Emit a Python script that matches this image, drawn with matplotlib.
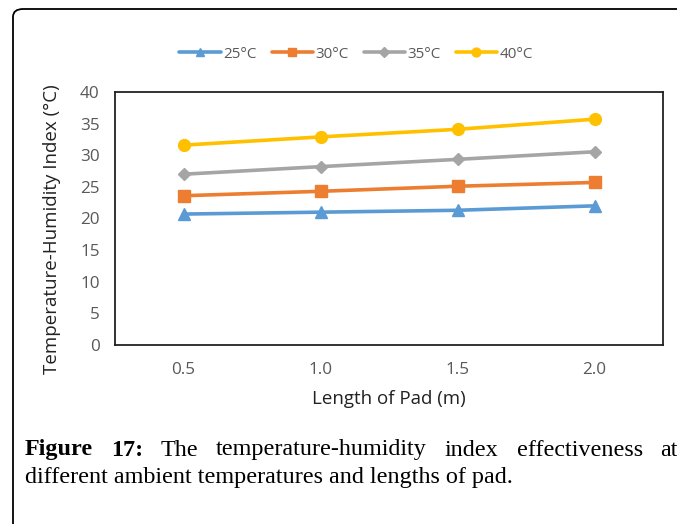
import matplotlib
matplotlib.use("Agg")
import matplotlib.pyplot as plt
from matplotlib.patches import FancyBboxPatch

lengths = ["0.5", "1.0", "1.5", "2.0"]
series_labels = ["25°C", "30°C", "35°C", "40°C"]
thi_25 = [20.7, 21.0, 21.3, 22.0]
thi_30 = [23.6, 24.3, 25.1, 25.7]
thi_35 = [27.0, 28.2, 29.35, 30.55]
thi_40 = [31.6, 32.9, 34.1, 35.7]
y_ticks = [0, 5, 10, 15, 20, 25, 30, 35, 40]

colors = ["#5B9BD5", "#ED7D31", "#A5A5A5", "#FFC000"]
markers = ["^", "s", "D", "o"]
msizes = [8, 8, 6.5, 8.5]

W, H = 677, 524
fig = plt.figure(figsize=(W / 100, H / 100), dpi=100)
fig.patch.set_facecolor("white")

# rounded outer frame
frame = FancyBboxPatch((13 / W, -0.2), 1.2, 1 - 9 / H + 0.2,
                       boxstyle="round,pad=0,rounding_size=0.015",
                       transform=fig.transFigure, fill=False,
                       edgecolor="black", linewidth=1.3, clip_on=False)
fig.patches.append(frame)

ax = fig.add_axes([115 / W, 1 - 345 / H, (663 - 115) / W, (345 - 92) / H])
xs = list(range(len(lengths)))
for vals, lab, c, m, ms in zip([thi_25, thi_30, thi_35, thi_40], series_labels,
                               colors, markers, msizes):
    ax.plot(xs, vals, color=c, marker=m, markersize=ms, linewidth=2.6,
            label=lab, solid_capstyle="round")

ax.set_xlim(-0.5, len(lengths) - 0.5)
ax.set_ylim(0, 40)
ax.set_xticks(xs)
ax.set_xticklabels(lengths)
ax.set_yticks(y_ticks)
ax.tick_params(length=0, labelsize=12.3, labelcolor="#595959",
               labelfontfamily="Open Sans")
ax.tick_params(axis="y", pad=11)
ax.tick_params(axis="x", pad=12)
for sp in ax.spines.values():
    sp.set_linewidth(1.3)
    sp.set_color("#222222")

ax.set_xlabel("Length of Pad (m)", fontsize=13.5, family="Open Sans",
              color="#222222", labelpad=9)
ax.set_ylabel("Temperature-Humidity Index (°C)", fontsize=13.5,
              family="Open Sans", color="#222222")
ax.yaxis.set_label_coords((61 - 115) / 548, (345 - 229) / 253)

leg = fig.legend(loc="center", bbox_to_anchor=(356 / W, 1 - 54 / H), ncol=4,
                 frameon=False, handlelength=2.7, handletextpad=0.15,
                 columnspacing=1.0, markerscale=0.75,
                 prop={"family": "Open Sans", "size": 11})
for t in leg.get_texts():
    t.set_color("#595959")

# justified caption, line 1
fig.canvas.draw()
renderer = fig.canvas.get_renderer()
cap_size = 17.4
y1 = 1 - 450 / H
y2 = 1 - 478 / H
words = [("Figure", "bold"), ("17:", "bold"), ("The", "normal"),
         ("temperature-humidity", "normal"), ("index", "normal"),
         ("effectiveness", "normal"), ("at", "normal")]
texts = []
widths = []
for w, wt in words:
    t = fig.text(0, y1, w, fontsize=cap_size, family="Liberation Serif",
                 weight=wt, va="center", ha="left")
    bb = t.get_window_extent(renderer=renderer)
    texts.append(t)
    widths.append(bb.width)
x_left, x_right = 25, 678
gap = (x_right - x_left - sum(widths)) / (len(words) - 1)
x = x_left
for t, wd in zip(texts, widths):
    t.set_x(x / W)
    x += wd + gap
fig.text(x_left / W, y2, "different ambient temperatures and lengths of pad.",
         fontsize=cap_size, family="Liberation Serif", va="center", ha="left")

fig.savefig("out.png", dpi=100)
